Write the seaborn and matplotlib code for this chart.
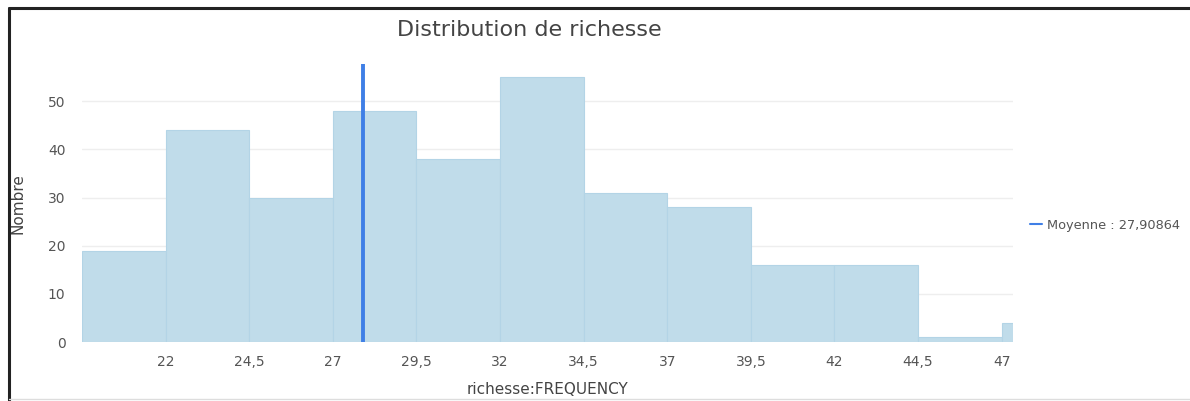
import numpy as np
import matplotlib
matplotlib.use('Agg')
import matplotlib.pyplot as plt
import seaborn as sns
from matplotlib.lines import Line2D

# Histogram data
bin_edges = [19.5, 22, 24.5, 27, 29.5, 32, 34.5, 37, 39.5, 42, 44.5, 47, 49.5]
counts = [19, 44, 30, 48, 38, 55, 31, 28, 16, 16, 1, 4]
mean_value = 27.90864
x_ticks = [22, 24.5, 27, 29.5, 32, 34.5, 37, 39.5, 42, 44.5, 47]
x_tick_labels = ['22', '24,5', '27', '29,5', '32', '34,5', '37', '39,5', '42', '44,5', '47']
y_ticks = [0, 10, 20, 30, 40, 50]

sns.set_style('white')
plt.rcParams['font.family'] = ['DejaVu Sans']

fig = plt.figure(figsize=(11.9, 4.01), dpi=100)
ax = fig.add_axes([0.069, 0.147, 0.782, 0.693])

centers = [(a + b) / 2 for a, b in zip(bin_edges[:-1], bin_edges[1:])]
sns.histplot(x=centers, weights=counts, bins=bin_edges, ax=ax,
             color='#c0dcea', alpha=1.0, edgecolor='#b3d4e6', linewidth=0.8)

# Mean line
ax.axvline(mean_value, color='#3f7fe6', linewidth=2.8, zorder=5)

ax.set_xlim(19.5, 47.33)
ax.set_ylim(0, 57.7)
ax.set_xticks(x_ticks)
ax.set_xticklabels(x_tick_labels)
ax.set_yticks(y_ticks)
ax.grid(axis='y', color='#eeeeee', linewidth=1.0)
ax.set_axisbelow(True)
for s in ax.spines.values():
    s.set_visible(False)
ax.tick_params(axis='x', length=4, color='#cfe3ee', colors='#555555', labelsize=10, pad=5)
ax.tick_params(axis='y', length=0, colors='#555555', labelsize=10, pad=12)

ax.set_xlabel('richesse:FREQUENCY', fontsize=11, color='#444444', labelpad=10)
ax.set_ylabel('Nombre', fontsize=11, color='#444444', labelpad=16)
fig.text(0.445, 0.925, 'Distribution de richesse', fontsize=16, color='#444444',
         ha='center', va='center')

handle = Line2D([0], [0], color='#3f7fe6', linewidth=1.5)
leg = ax.legend([handle], ['Moyenne : 27,90864'], loc='center left',
                bbox_to_anchor=(1.006, 0.42), frameon=False, handlelength=0.9,
                handletextpad=0.4, fontsize=9.3)
for t in leg.get_texts():
    t.set_color('#555555')

# Screenshot frame
fig.add_artist(Line2D([0.0075, 0.0075], [0.0, 0.98], transform=fig.transFigure,
                      color='#222222', linewidth=2.2))
fig.add_artist(Line2D([0.0075, 1.0], [0.98, 0.98], transform=fig.transFigure,
                      color='#222222', linewidth=2.2))
fig.add_artist(Line2D([0.0075, 1.0], [0.004, 0.004], transform=fig.transFigure,
                      color='#dddddd', linewidth=1.0))

fig.savefig('out.png', dpi=100)
